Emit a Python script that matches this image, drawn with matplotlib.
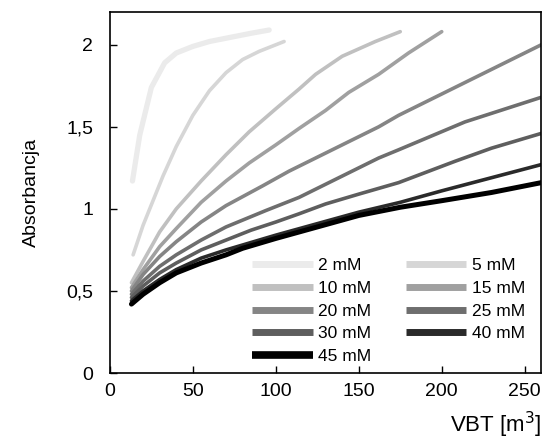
import matplotlib
matplotlib.use("Agg")
from matplotlib import pyplot as plt

plt.rcParams['font.family'] = ['Liberation Sans', 'DejaVu Sans']

labels = ["2 mM", "5 mM", "10 mM", "15 mM", "20 mM", "25 mM", "30 mM", "40 mM", "45 mM"]
colors = ["#ebebeb", "#d6d6d6", "#c0c0c0", "#a0a0a0", "#858585", "#6e6e6e", "#5e5e5e", "#2a2a2a", "#000000"]
widths = [3.8, 2.6, 2.6, 2.6, 2.6, 2.6, 2.6, 2.6, 3.6]

x2 = [13.6, 18, 25, 33, 40, 50, 60, 70, 85, 96]
y2 = [1.17, 1.45, 1.74, 1.89, 1.95, 1.99, 2.02, 2.04, 2.07, 2.09]
x5 = [14, 20, 26, 32, 40, 50, 60, 70, 80, 90, 105]
y5 = [0.72, 0.9, 1.05, 1.2, 1.38, 1.57, 1.72, 1.83, 1.91, 1.96, 2.02]
x10 = [13, 20, 30, 40, 55, 70, 84, 100, 114, 124, 140, 160, 175]
y10 = [0.55, 0.68, 0.86, 1.0, 1.17, 1.33, 1.47, 1.61, 1.73, 1.82, 1.93, 2.02, 2.08]
x15 = [13, 20, 30, 40, 55, 70, 84, 100, 114, 130, 144, 162, 180, 200]
y15 = [0.52, 0.63, 0.77, 0.88, 1.04, 1.17, 1.28, 1.39, 1.49, 1.6, 1.71, 1.82, 1.95, 2.08]
x20 = [13, 20, 30, 40, 55, 70, 92, 108, 130, 162, 174, 200, 230, 260]
y20 = [0.5, 0.6, 0.71, 0.8, 0.92, 1.02, 1.14, 1.23, 1.34, 1.5, 1.57, 1.7, 1.85, 2.0]
x25 = [13, 20, 30, 40, 55, 70, 94, 114, 140, 162, 174, 214, 260]
y25 = [0.48, 0.56, 0.65, 0.72, 0.81, 0.89, 0.99, 1.07, 1.2, 1.31, 1.36, 1.53, 1.68]
x30 = [13, 20, 30, 40, 55, 70, 85, 100, 114, 130, 150, 174, 208, 230, 260]
y30 = [0.46, 0.53, 0.61, 0.67, 0.75, 0.81, 0.87, 0.92, 0.97, 1.03, 1.09, 1.16, 1.29, 1.37, 1.46]
x40 = [13, 20, 30, 40, 55, 70, 80, 100, 125, 150, 175, 200, 230, 260]
y40 = [0.44, 0.5, 0.57, 0.63, 0.7, 0.75, 0.78, 0.84, 0.91, 0.98, 1.04, 1.11, 1.19, 1.27]
x45 = [13, 20, 30, 40, 55, 70, 80, 100, 125, 150, 175, 200, 230, 260]
y45 = [0.42, 0.48, 0.55, 0.61, 0.67, 0.72, 0.76, 0.82, 0.89, 0.96, 1.01, 1.05, 1.1, 1.16]

xs = [x2, x5, x10, x15, x20, x25, x30, x40, x45]
ys = [y2, y5, y10, y15, y20, y25, y30, y40, y45]

fig = plt.figure(figsize=(5.44, 4.43), dpi=100)
ax = fig.add_axes([0.202, 0.158, 0.793, 0.815])

lines = []
for x, y, c, w, lab in zip(xs, ys, colors, widths, labels):
    l, = ax.plot(x, y, color=c, lw=w, label=lab, solid_capstyle='round')
    lines.append(l)

ax.set_xlim(0, 260)
ax.set_ylim(0, 2.2)
ax.set_xticks([0, 50, 100, 150, 200, 250])
ax.set_yticks([0, 0.5, 1, 1.5, 2])
ax.set_yticklabels(["0", "0,5", "1", "1,5", "2"])
ax.tick_params(direction='in', length=5, width=1, labelsize=14)
ax.tick_params(axis='x', pad=7)
ax.tick_params(axis='y', pad=12)
for s in ax.spines.values():
    s.set_linewidth(1.2)

ax.set_ylabel("Absorbancja", fontsize=14, labelpad=19)
ax.set_xlabel("VBT [m$^3$]", fontsize=16, loc='right', labelpad=7)

order = [0, 2, 4, 6, 8, 1, 3, 5, 7]
leg = ax.legend([lines[i] for i in order], [labels[i] for i in order], ncol=2,
                frameon=False, fontsize=12.5, loc='lower right',
                bbox_to_anchor=(0.998, -0.019), handlelength=3.5,
                handletextpad=0.3, columnspacing=2.0, labelspacing=0.44)
for h, i in zip(leg.legend_handles, order):
    h.set_linewidth(5.0 if i < 8 else 5.5)
    h.set_solid_capstyle('butt')

fig.savefig("out.png", dpi=100)
